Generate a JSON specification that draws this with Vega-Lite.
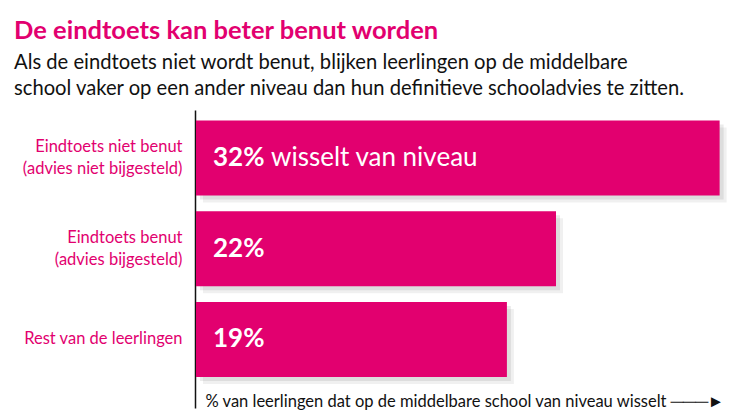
{
  "$schema": "https://vega.github.io/schema/vega-lite/v6.json",
  "width": 540,
  "height": 298,
  "autosize": "none",
  "padding": {"left": 196, "top": 110, "right": 4, "bottom": 12},
  "background": "white",
  "config": {"view": {"stroke": null}, "font": "Lato"},
  "title": {
    "text": "De eindtoets kan beter benut worden",
    "subtitle": ["Als de eindtoets niet wordt benut, blijken leerlingen op de middelbare", "school vaker op een ander niveau dan hun definitieve schooladvies te zitten."],
    "anchor": "start",
    "frame": "group",
    "dx": -182,
    "offset": 11,
    "font": "Lato",
    "fontSize": 25.5,
    "fontWeight": "bold",
    "color": "#e2006f",
    "subtitleFont": "Lato",
    "subtitleFontSize": 20.2,
    "subtitleColor": "#111111",
    "subtitleLineHeight": 26,
    "subtitlePadding": 8
  },
  "data": {
    "values": [
      {"group": "Eindtoets niet benut|(advies niet bijgesteld)", "value": 32, "label": "32%", "suffix": "wisselt van niveau"},
      {"group": "Eindtoets benut|(advies bijgesteld)", "value": 22, "label": "22%", "suffix": ""},
      {"group": "Rest van de leerlingen", "value": 19, "label": "19%", "suffix": ""}
    ]
  },
  "encoding": {
    "y": {
      "field": "group",
      "type": "nominal",
      "sort": null,
      "scale": {"paddingInner": 0.1736, "paddingOuter": 0.2287, "align": 0.253},
      "axis": {
        "title": null,
        "ticks": false,
        "domainColor": "#111111",
        "domainWidth": 1.5,
        "offset": 1,
        "labelExpr": "split(datum.value, '|')",
        "labelOffset": {"condition": {"test": "indexof(datum.value, '|') >= 0", "value": -11}, "value": 0},
        "labelColor": "#e2006f",
        "labelFont": "Lato",
        "labelFontSize": 16.5,
        "labelLineHeight": 22,
        "labelPadding": 13,
        "labelLimit": 300
      }
    },
    "x": {
      "field": "value",
      "type": "quantitative",
      "scale": {"domain": [0, 33]},
      "axis": {
        "title": "% van leerlingen dat op de middelbare school van niveau wisselt ───►",
        "labels": false,
        "ticks": false,
        "domain": false,
        "grid": false,
        "titleAnchor": "start",
        "titleAlign": "left",
        "titleX": 9,
        "titleY": -2,
        "titleBaseline": "alphabetic",
        "titleFont": "Lato",
        "titleFontSize": 16.5,
        "titleFontWeight": "normal",
        "titleColor": "#111111"
      }
    }
  },
  "layer": [
    {"mark": {"type": "bar", "fill": "#000000", "opacity": 0.06, "xOffset": 7, "yOffset": 7}},
    {"mark": {"type": "bar", "fill": "#000000", "opacity": 0.08, "xOffset": 4, "yOffset": 4}},
    {"mark": {"type": "bar", "fill": "#e2006f"}},
    {
      "mark": {"type": "text", "align": "left", "baseline": "middle", "dx": 17, "fontSize": 26, "fontWeight": "bold", "fill": "white", "font": "Lato"},
      "encoding": {"x": {"datum": 0}, "text": {"field": "label"}}
    },
    {
      "mark": {"type": "text", "align": "left", "baseline": "middle", "dx": 75, "fontSize": 26, "fontWeight": "normal", "fill": "white", "font": "Lato"},
      "encoding": {"x": {"datum": 0}, "text": {"field": "suffix"}}
    }
  ]
}
